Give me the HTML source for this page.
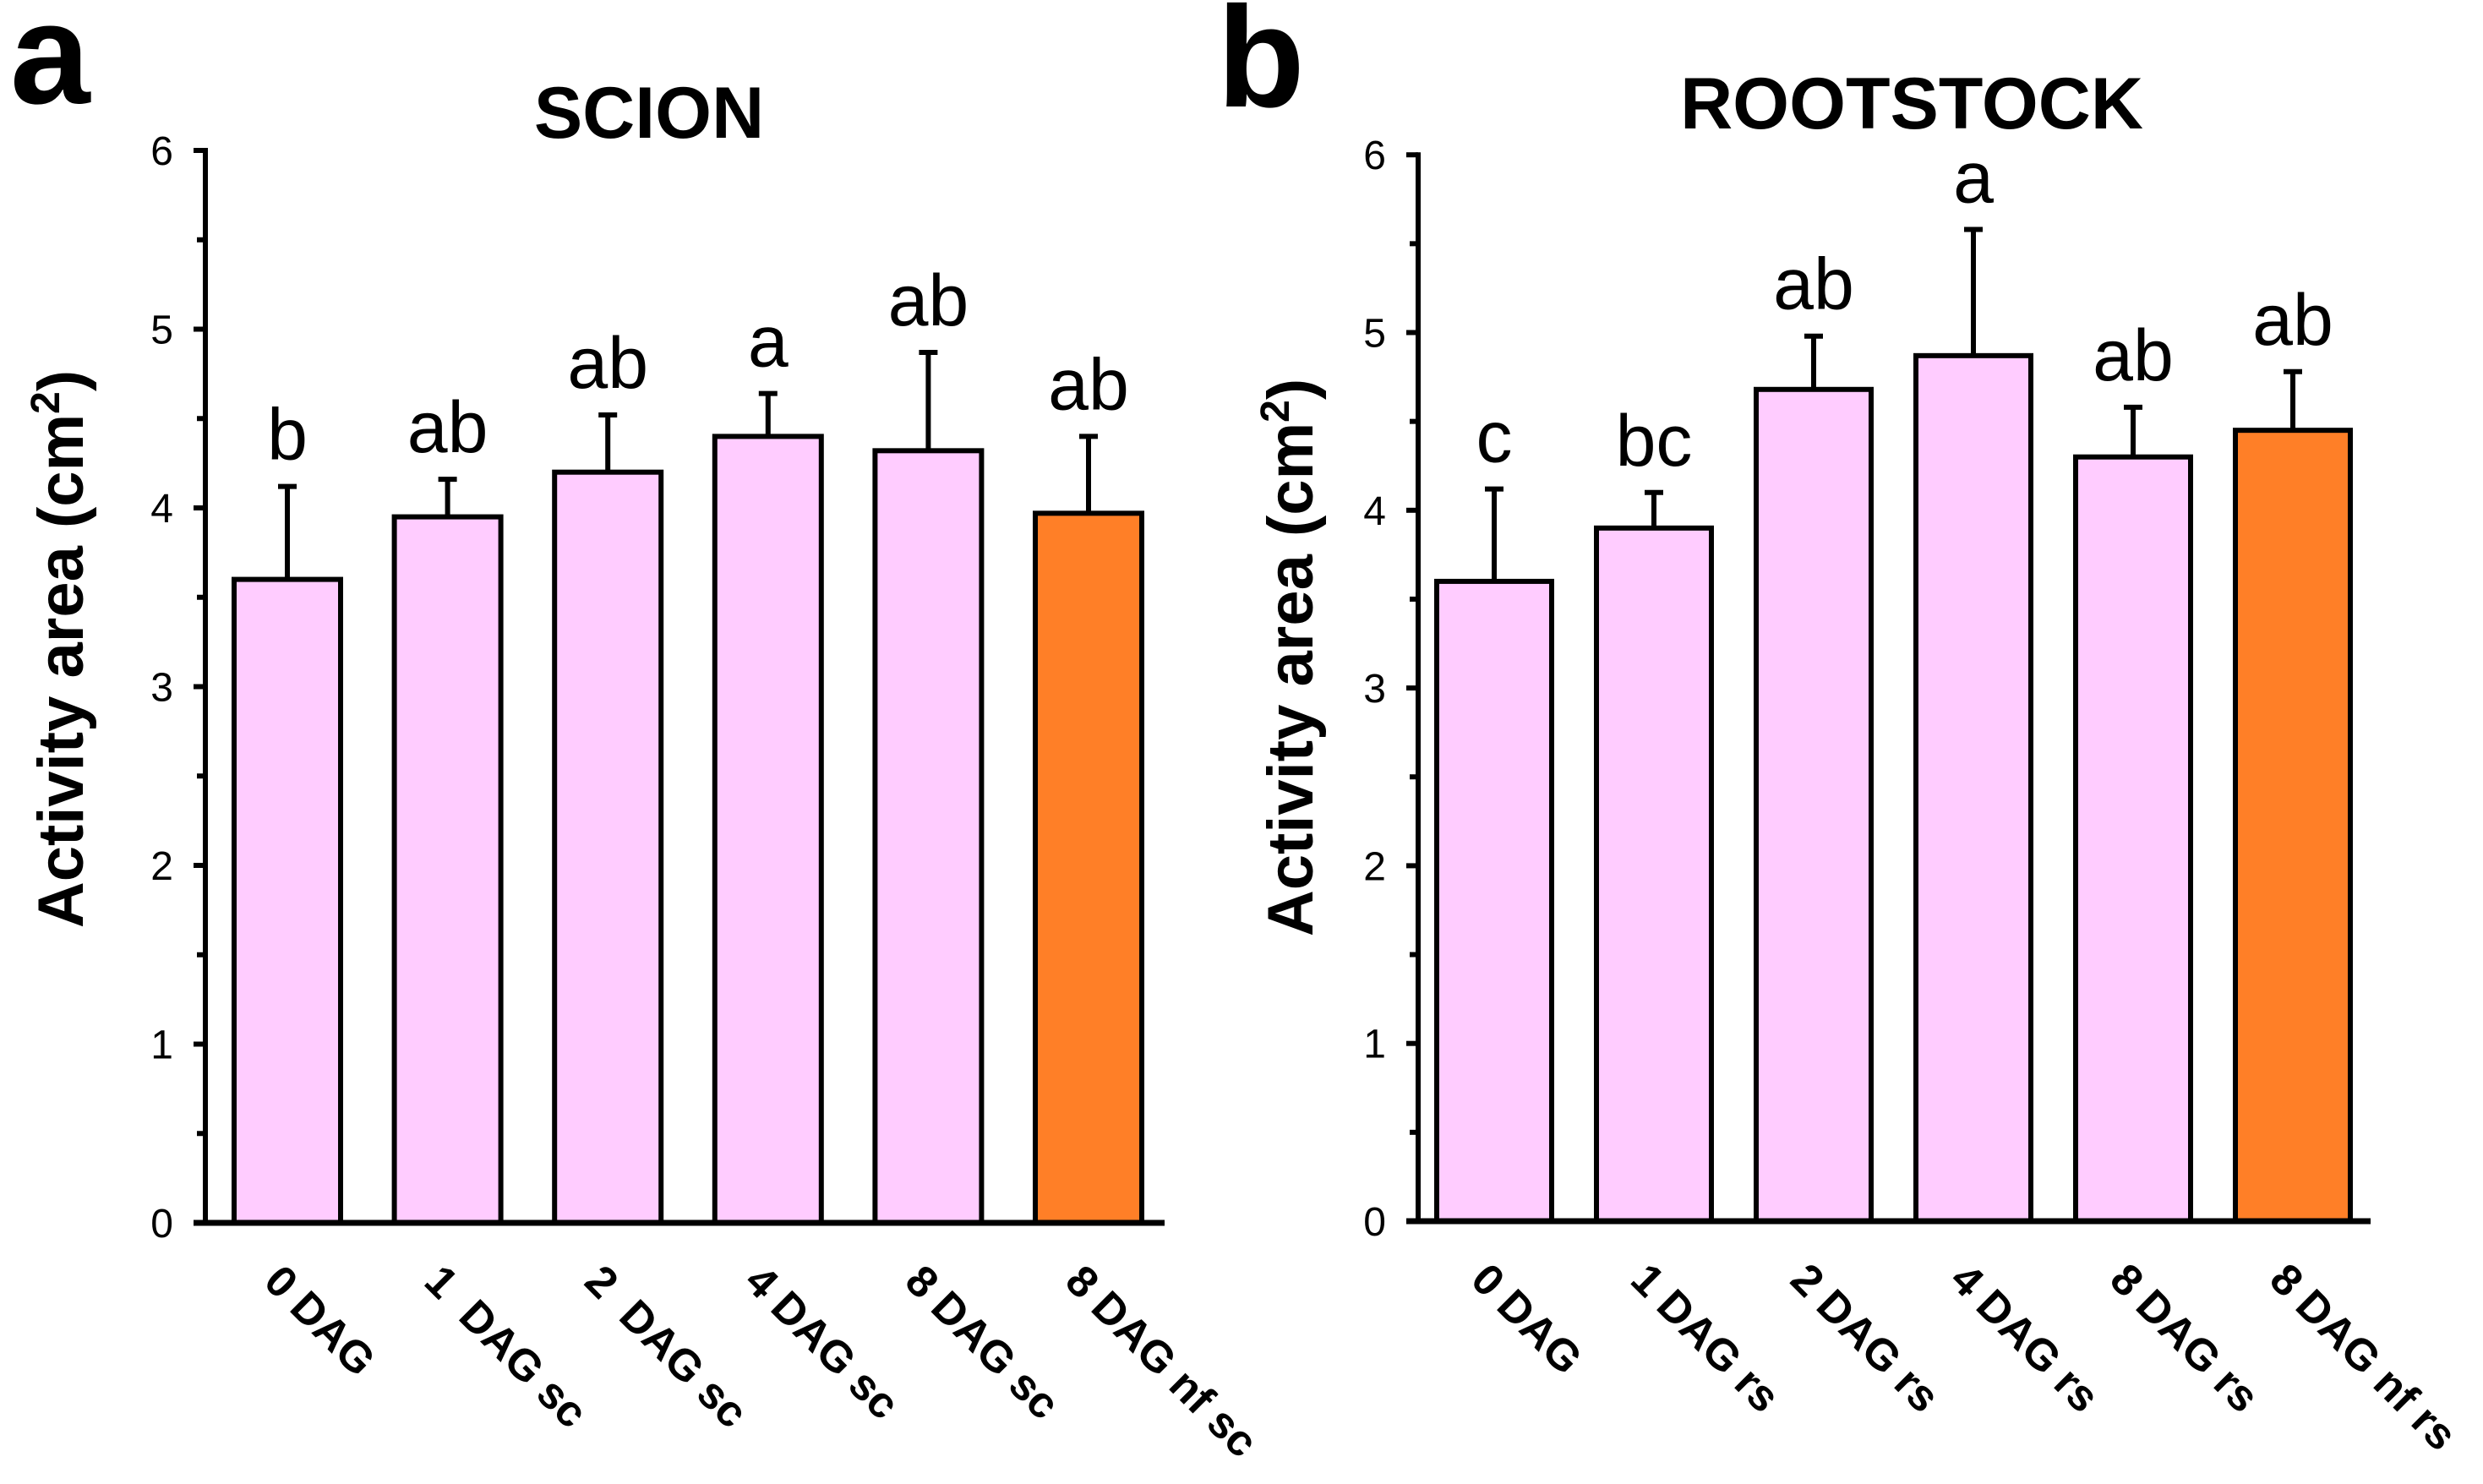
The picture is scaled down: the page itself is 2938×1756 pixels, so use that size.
<!DOCTYPE html>
<html><head><meta charset="utf-8"><style>
html,body{margin:0;padding:0;background:#fff;}
svg{display:block;font-family:"Liberation Sans",Arial,sans-serif;}
.pre{white-space:pre;}
</style></head><body>
<svg id="fig" width="2938" height="1756" viewBox="0 0 2938 1756">
<text x="12" y="122" font-size="170" font-weight="bold">a</text>
<text x="1440" y="126" font-size="170" font-weight="bold">b</text>
<text x="768" y="163" font-size="86" font-weight="bold" text-anchor="middle">SCION</text>
<text x="2262" y="152" font-size="86" font-weight="bold" text-anchor="middle">ROOTSTOCK</text>
<g id="chartA"></g>
<g id="chartB"></g>
</svg>
<script>
const ticks = [0,1,2,3,4,5,6];
const catsA = ["0 DAG","1  DAG sc","2  DAG sc","4 DAG sc","8 DAG sc","8 DAG nf sc"];
const valsA = [3.6,3.95,4.2,4.4,4.32,3.97];
const errTopA = [4.12,4.16,4.52,4.64,4.87,4.4];
const lettersA = ["b","ab","ab","a","ab","ab"];
const catsB = ["0 DAG","1 DAG rs","2 DAG rs","4 DAG rs","8 DAG rs","8 DAG nf rs"];
const valsB = [3.6,3.9,4.68,4.87,4.3,4.45];
const errTopB = [4.12,4.1,4.98,5.58,4.58,4.78];
const lettersB = ["c","bc","ab","a","ab","ab"];
const colors = ["#ffccff","#ffccff","#ffccff","#ffccff","#ffccff","#ff7f27"];
const NS="http://www.w3.org/2000/svg";
function mk(parent,tag,attrs){const e=document.createElementNS(NS,tag);for(const k in attrs)e.setAttribute(k,attrs[k]);parent.appendChild(e);return e;}
function draw(gid,cfg,cats,vals,tops,letters){
  const g=document.getElementById(gid);
  const y=v=>cfg.y0-v*cfg.unit;
  const x=i=>cfg.bar0+i*cfg.step;
  cats.forEach((c,i)=>{
    const r=mk(g,'rect',{x:x(i),y:y(vals[i]),width:cfg.bw,height:y(0)-y(vals[i]),fill:colors[i],stroke:'#000','stroke-width':6});
    
    
    const cx=x(i)+cfg.bw/2;
    const l=mk(g,'line',{x1:cx,x2:cx,y1:y(vals[i]),y2:y(tops[i]),stroke:'#000','stroke-width':6});
    
    
    const cap=mk(g,'line',{x1:cx-11,x2:cx+11,y1:y(tops[i]),y2:y(tops[i]),stroke:'#000','stroke-width':6});
    
    
    const t=mk(g,'text',{x:cx,y:y(tops[i])-32,'font-size':86,'text-anchor':'middle'});
    t.textContent=letters[i];
    
    
    const lx=cx-30, ly=cfg.y0+72;
    const xl=mk(g,'text',{x:lx,y:ly,'font-size':52,'font-weight':'bold','class':'pre',transform:`rotate(45 ${lx} ${ly})`});
    xl.textContent=c;
    
    
  });
  const ya=mk(g,'line',{x1:cfg.ax,x2:cfg.ax,y1:y(6)-3,y2:y(0),stroke:'#000','stroke-width':6});
  
  
  const xa=mk(g,'line',{x1:cfg.ax-14,x2:cfg.xend,y1:y(0),y2:y(0),stroke:'#000','stroke-width':7});
  
  
  ticks.forEach(v=>{
    const tk=mk(g,'line',{x1:cfg.ax-14,x2:cfg.ax,y1:y(v),y2:y(v),stroke:'#000','stroke-width':6});
    
    
    if(v<6){const m=mk(g,'line',{x1:cfg.ax-10,x2:cfg.ax,y1:y(v+0.5),y2:y(v+0.5),stroke:'#000','stroke-width':6});
      
      }
    const tl=mk(g,'text',{x:cfg.lx,y:y(v)+17,'font-size':48,'text-anchor':'end'});
    tl.textContent=v;
    
    
  });
  const at=mk(g,'text',{x:cfg.tx,y:cfg.ty,'font-size':76,'font-weight':'bold','text-anchor':'middle',transform:`rotate(-90 ${cfg.tx} ${cfg.ty})`});
  at.innerHTML='Activity area (cm<tspan font-size="48" dy="-28">2</tspan><tspan dy="28">)</tspan>';
  
  
}
draw('chartA',{y0:1447,unit:211.5,ax:243,xend:1378,bar0:277,step:189.6,bw:126,lx:205,tx:98,ty:768},catsA,valsA,errTopA,lettersA);
draw('chartB',{y0:1445,unit:210.3,ax:1678,xend:2805,bar0:1700,step:189,bw:136,lx:1640,tx:1553,ty:778},catsB,valsB,errTopB,lettersB);
</script>
</body></html>
